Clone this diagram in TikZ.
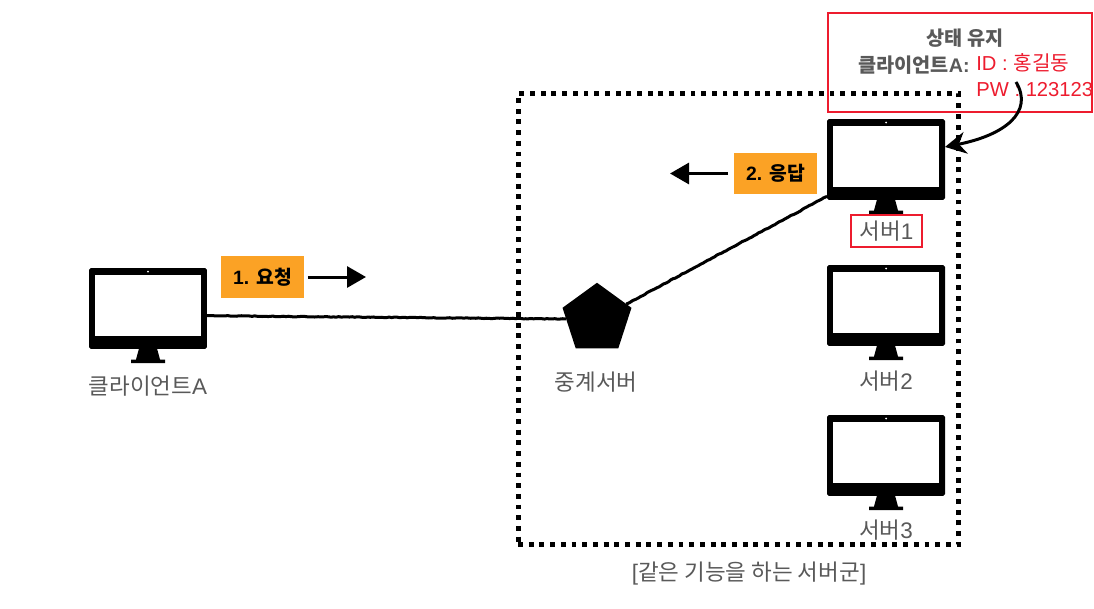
\documentclass[tikz,border=0pt]{standalone}
\usepackage{fontspec}
\setmainfont{Liberation Sans}
\newfontfamily\krfont{Noto Sans CJK KR}
\usetikzlibrary{positioning}
\usetikzlibrary{arrows.meta}
\usetikzlibrary{shapes.geometric}
\usetikzlibrary{decorations.pathmorphing}

\definecolor{labelgray}{HTML}{595959}
\definecolor{stepgold}{HTML}{FBA225}
\definecolor{notered}{HTML}{ED1C2E}

\begin{document}
\begin{tikzpicture}[
        x=0.02cm, y=-0.02cm,
        monitorbody/.style={rectangle, fill=black, rounded corners=1pt, inner sep=0pt, outer sep=0pt, minimum width=2.36cm, minimum height=1.62cm},
        monitorscreen/.style={rectangle, fill=white, inner sep=0pt, outer sep=0pt, minimum width=2.12cm, minimum height=1.22cm},
        monitor/.pic={
            \node [monitorbody] (-body) at (0,0) {};
            \node [monitorscreen] (-screen) at (0,-3) {};
            \fill [white] (0,-37) circle (1);
            \fill [black] (-9,40) -- (9,40) -- (12,51) -- (17,51) -- (17,54.5) -- (-17,54.5) -- (-17,51) -- (-12,51) -- cycle;
        },
        graylabel/.style={text=labelgray, inner sep=0pt, font=\fontsize{12.8}{15}\selectfont},
        boldlabel/.style={text=labelgray, inner sep=0pt, font=\fontsize{11.2}{13}\selectfont\bfseries},
        redlabel/.style={text=notered, anchor=west, inner sep=0pt, font=\fontsize{11.5}{14}\selectfont},
        redbox/.style={draw=notered, line width=0.056cm, inner sep=0pt, outer sep=0pt},
        stepbox/.style={fill=stepgold, text=black, inner sep=0pt, outer sep=0pt, minimum width=1.66cm, minimum height=0.83cm, font=\fontsize{11}{13}\selectfont\bfseries},
        roughline/.style={line width=0.06cm, black, decorate, decoration={random steps, segment length=1.5pt, amplitude=0.2pt}},
        roughtip/.style={-{Triangle[length=0.38cm, width=0.42cm]}, line width=0.06cm, black}
    ]

        \useasboundingbox (0,0) rectangle (1094,608);

        \node [draw=black, line width=0.1cm, dash pattern=on 0.098cm off 0.116cm, inner sep=0pt, outer sep=0pt, minimum width=8.82cm, minimum height=9.02cm] (ServerGroup) at (738.5,319) {};

        \pic (Client) at (148,308.5) {monitor};
        \pic (Server1) at (886,159.5) {monitor};
        \pic (Server2) at (886,305.5) {monitor};
        \pic (Server3) at (886,455.5) {monitor};
        \node [regular polygon, regular polygon sides=5, fill=black, inner sep=0pt, outer sep=0pt, minimum size=1.45cm] (Relay) at (597,319) {};

        \node [graylabel] (ClientText) at (148,386) {{\krfont 클라이언트}A};
        \node [graylabel] (RelayText) at (596,382) {\krfont 중계서버};
        \node [graylabel, redbox, minimum width=1.42cm, minimum height=0.64cm] (Server1Text) at (886.5,231) {{\krfont 서버}1};
        \node [graylabel] (Server2Text) at (886,381) {{\krfont 서버}2};
        \node [graylabel] (Server3Text) at (886,530) {{\krfont 서버}3};
        \node [graylabel] (GroupText) at (749,574) {[{\krfont 같은 기능을 하는 서버군}]};

        \node [stepbox] (Step1) at (262.5,277) {1. {\krfont 요청}};
        \node [stepbox] (Step2) at (775.5,173.5) {2. {\krfont 응답}};
        \coordinate (Step1Tip) at (366,277);
        \coordinate (Step2Tip) at (670,173.5);

        \node [redbox, minimum width=5.28cm, minimum height=1.98cm] (StateBox) at (960,62.5) {};
        \node [boldlabel] (StateTitle) at (965,38) {\krfont 상태 유지};
        \node [boldlabel, anchor=east] (StateClient) at (970,65) {{\krfont 클라이언트}A:};
        \node [redlabel] (StateId) at (976,63) {ID : {\krfont 홍길동}};
        \node [redlabel] (StatePw) at (976,90) {PW : 123123};
        \coordinate (StateFrom) at (1016,82);

        \draw [roughline] (Client-body.-7) -- (Relay.west);
        \draw [roughline] (Relay.27) -- (Server1-body.212);
        \draw [roughtip, shorten <=0.08cm] (Step1.east) -- (Step1Tip);
        \draw [roughtip, shorten <=0.12cm] (Step2.west) -- (Step2Tip);
        \draw [-{Stealth[length=0.42cm, width=0.44cm]}, line width=0.06cm, black] (StateFrom) .. controls (1034,112) and (1005,135) .. (Server1-body.12);

    \end{tikzpicture}
\end{document}
